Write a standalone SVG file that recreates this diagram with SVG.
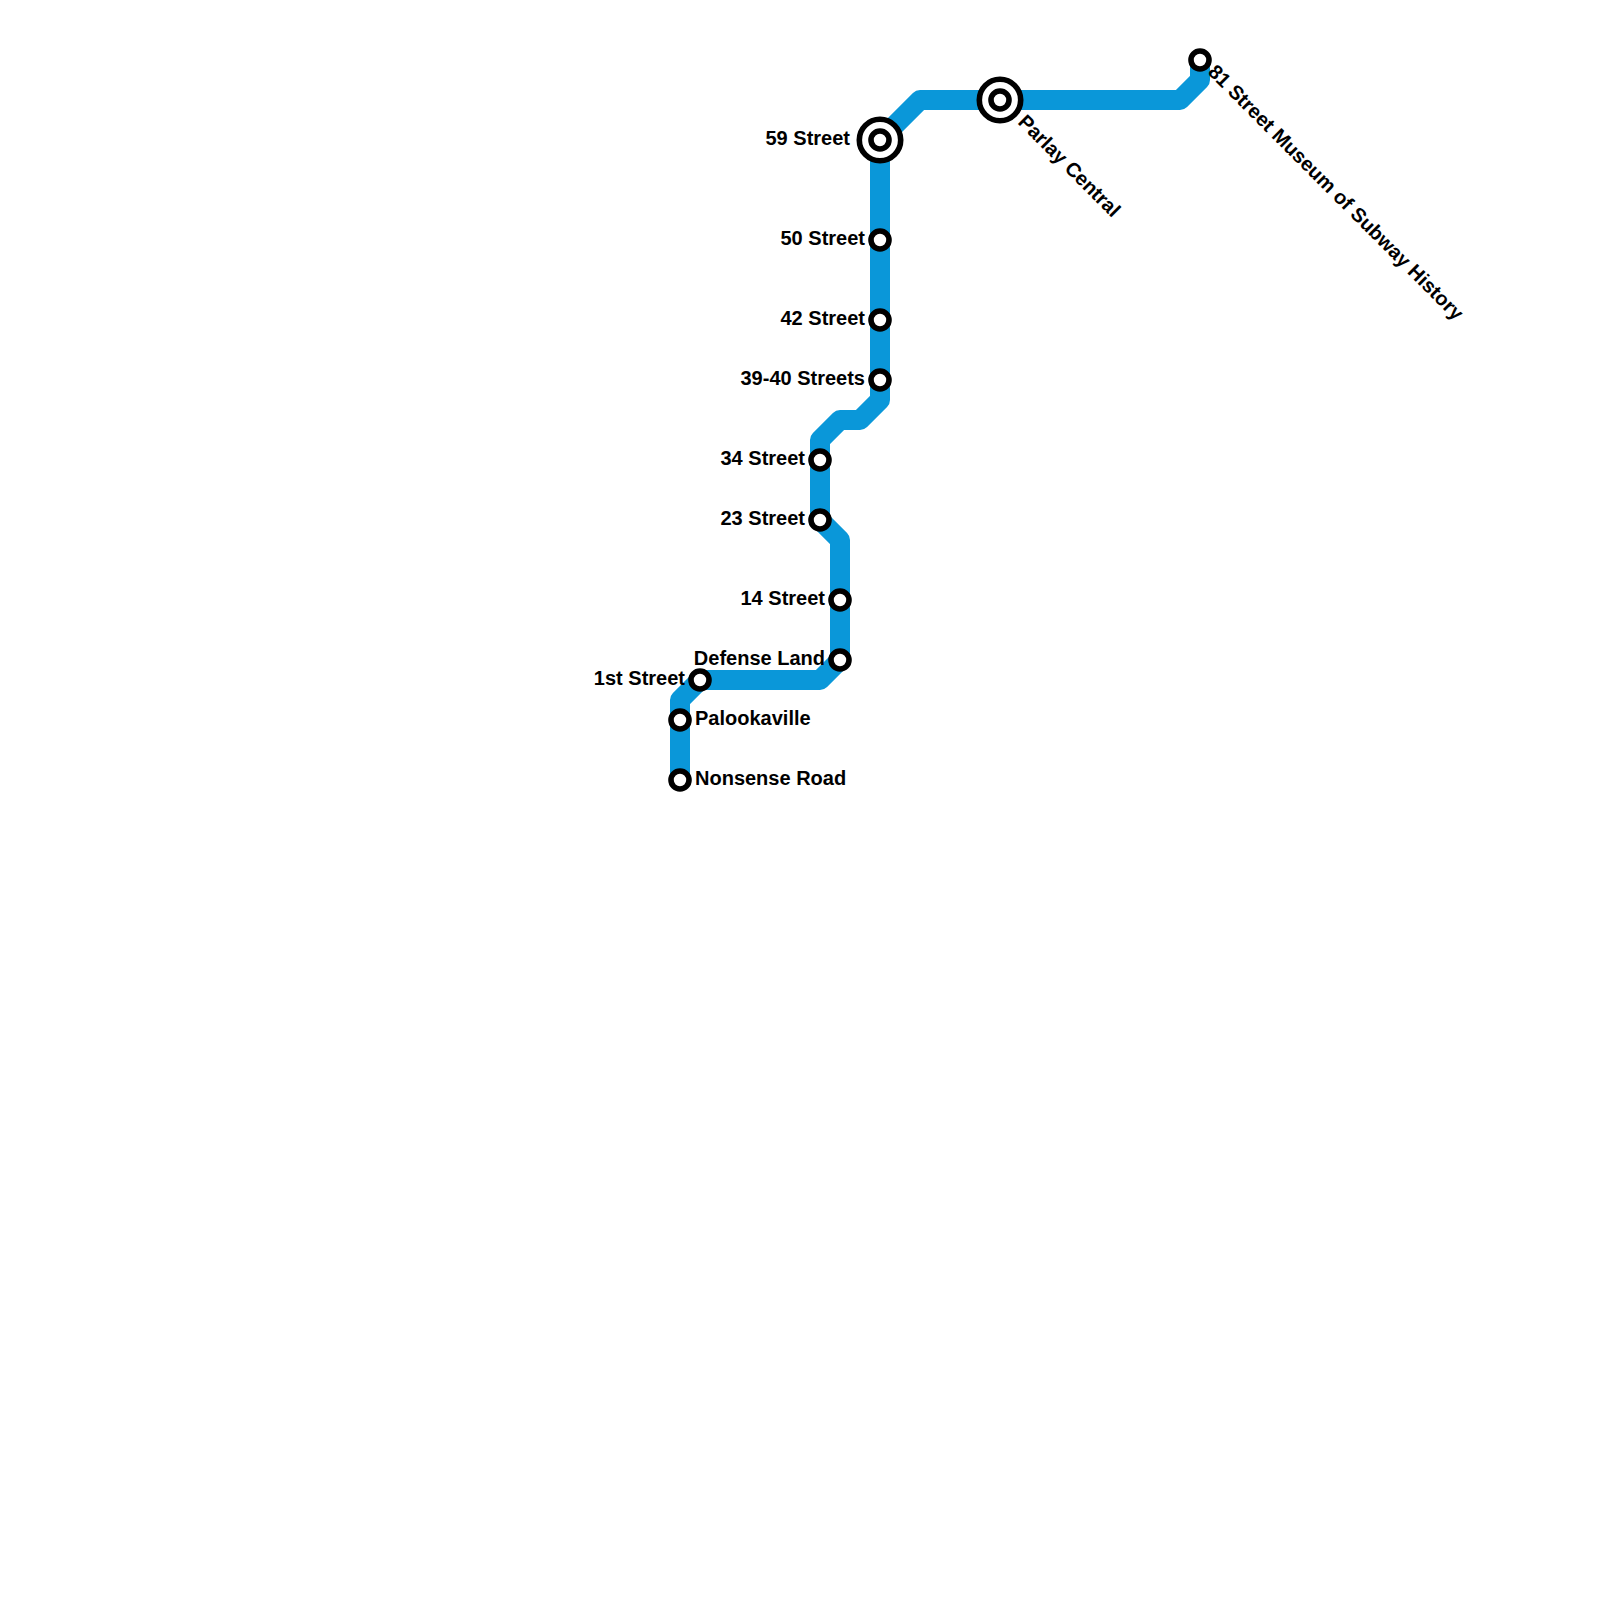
<svg xmlns="http://www.w3.org/2000/svg" width="1600" height="1600" viewBox="0 0 1600 1600">
<style>
.line{fill:none;stroke:#0a97d9;stroke-width:20;stroke-linejoin:round;stroke-linecap:round}
.ring{fill:#fff;stroke:#000;stroke-width:5.6}
text{font-family:"Liberation Sans",Arial,sans-serif;font-size:20px;font-weight:bold;fill:#000}
.e{text-anchor:end}
</style>
<rect width="1600" height="1600" fill="#fff"/>
<g id="connectors">
<path class="line" d="M680 780V700L700 680H820L840 660V540L820 520V440L840 420H860L880 400V140L920 100H1180L1200 80V60"/>
</g>
<g id="nonsense-road"><circle class="ring" cx="680" cy="780" r="9"/><text x="695" y="785">Nonsense Road</text></g>
<g id="palookaville"><circle class="ring" cx="680" cy="720" r="9"/><text x="695" y="725">Palookaville</text></g>
<g id="first-street"><circle class="ring" cx="700" cy="680" r="9"/><text class="e" x="685" y="685">1st Street</text></g>
<g id="defense-land"><circle class="ring" cx="840" cy="660" r="9"/><text class="e" x="825" y="665">Defense Land</text></g>
<g id="s14"><circle class="ring" cx="840" cy="600" r="9"/><text class="e" x="825" y="605">14 Street</text></g>
<g id="s23"><circle class="ring" cx="820" cy="520" r="9"/><text class="e" x="805" y="525">23 Street</text></g>
<g id="s34"><circle class="ring" cx="820" cy="460" r="9"/><text class="e" x="805" y="465">34 Street</text></g>
<g id="s39"><circle class="ring" cx="880" cy="380" r="9"/><text class="e" x="865" y="385">39-40 Streets</text></g>
<g id="s42"><circle class="ring" cx="880" cy="320" r="9"/><text class="e" x="865" y="325">42 Street</text></g>
<g id="s50"><circle class="ring" cx="880" cy="240" r="9"/><text class="e" x="865" y="245">50 Street</text></g>
<g id="s59"><circle class="ring" cx="880" cy="140" r="20.7"/><circle class="ring" cx="880" cy="140" r="9"/><text class="e" x="850" y="145">59 Street</text></g>
<g id="parlay"><circle class="ring" cx="1000" cy="100" r="20.7"/><circle class="ring" cx="1000" cy="100" r="9"/><text transform="translate(1017 123) rotate(45)">Parlay Central</text></g>
<g id="s81"><circle class="ring" cx="1200" cy="60" r="9"/><text transform="translate(1207 73) rotate(45)">81 Street Museum of Subway History</text></g>
</svg>
